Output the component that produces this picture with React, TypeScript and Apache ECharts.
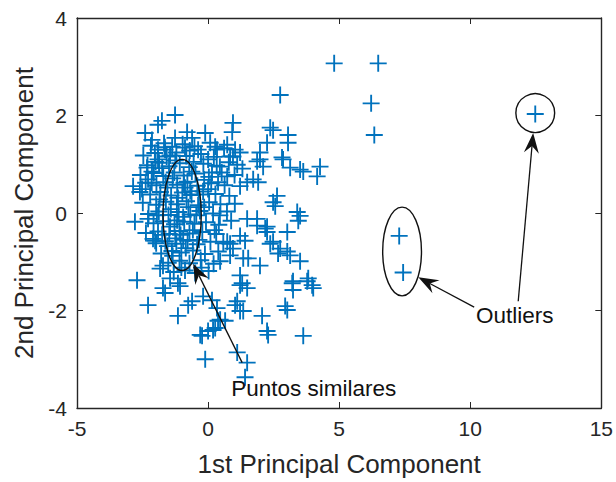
import React, { useEffect, useRef } from 'react';
import * as echarts from 'echarts';

// Axis ranges / ticks
const xTicks = [-5, 0, 5, 10, 15];
const yTicks = [-4, -2, 0, 2, 4];
const xTitle = '1st Principal Component';
const yTitle = '2nd Principal Component';

// Scores: dense core of the cloud [PC1, PC2]
const coreScores: number[][] = [
  [-2.18, 1.38], [-1.68, 1.43], [-1.37, 1.36], [-0.97, 1.41], [-0.52, 1.37], [0.08, 1.44], [0.61, 1.33],
  [-2.47, 1.18], [-2.03, 1.23], [-1.58, 1.16], [-1.21, 1.24], [-0.83, 1.17], [-0.27, 1.21], [0.22, 1.15],
  [-2.31, 0.98], [-1.87, 1.03], [-1.49, 0.96], [-1.08, 1.02], [-0.72, 0.94], [-0.18, 1.01], [0.33, 0.97], [0.79, 1.04], [1.31, 0.91],
  [-2.58, 0.78], [-2.07, 0.82], [-1.71, 0.76], [-1.29, 0.83], [-0.93, 0.77], [-0.48, 0.81], [0.03, 0.74], [0.52, 0.83], [1.01, 0.78],
  [-2.38, 0.62], [-1.97, 0.57], [-1.62, 0.63], [-1.18, 0.58], [-0.79, 0.64], [-0.41, 0.56], [0.12, 0.61], [0.63, 0.57],
  [-2.21, 0.38], [-1.82, 0.43], [-1.41, 0.36], [-0.98, 0.42], [-0.63, 0.37], [-0.19, 0.44], [0.28, 0.39], [0.81, 0.35],
  [-2.49, 0.21], [-1.98, 0.17], [-1.61, 0.23], [-1.19, 0.18], [-0.82, 0.24], [-0.38, 0.16], [0.04, 0.22], [0.47, 0.18], [1.02, 0.19],
  [-2.27, -0.02], [-1.88, 0.03], [-1.51, -0.04], [-1.12, 0.02], [-0.68, -0.03], [-0.31, 0.04], [0.19, -0.01], [0.72, 0.03],
  [-2.08, -0.21], [-1.72, -0.17], [-1.28, -0.23], [-0.91, -0.18], [-0.52, -0.22], [-0.08, -0.19], [0.41, -0.24], [0.88, -0.16],
  [-2.37, -0.41], [-1.91, -0.38], [-1.48, -0.43], [-1.09, -0.37], [-0.71, -0.42], [-0.22, -0.39], [0.31, -0.43],
  [-1.98, -0.62], [-1.63, -0.58], [-1.21, -0.63], [-0.78, -0.57], [-0.42, -0.64], [0.09, -0.59], [0.58, -0.62],
  [-1.79, -0.83], [-1.38, -0.78], [-1.02, -0.81], [-0.58, -0.77], [-0.12, -0.84], [0.39, -0.79],
  [-1.52, -1.02], [-1.09, -0.98], [-0.71, -1.03], [-0.28, -0.97], [0.21, -1.04],
  [-1.31, -1.21], [-0.88, -1.18], [-0.49, -1.23], [0.02, -1.19],
  [-1.35, 0.71], [-0.88, 0.52], [-1.42, 0.08], [-0.95, -0.08], [-1.25, -0.52], [-0.85, -0.72], [-1.15, 0.31],
  [-0.75, 0.12], [-1.45, -0.28], [-1.05, -0.45], [-0.62, 0.85], [-1.25, 1.08], [-0.58, -0.35], [-1.35, -0.88],
  [-0.92, 0.62], [-1.02, -1.12], [-0.68, 0.45], [-1.55, 0.52], [-0.45, -0.05], [-1.18, -0.15],
  [-2.00, 1.05], [-1.75, 0.92], [-1.45, 1.18], [-0.55, 1.05], [-0.15, 0.68], [-2.15, 0.62], [-1.85, 0.28],
  [-0.35, 0.38], [-1.95, -0.05], [-0.15, 0.12], [0.45, -0.05], [-1.75, -0.45], [-0.35, -0.55], [-1.55, -0.68],
  [-0.95, -0.55], [0.25, -0.35], [-0.25, -1.12], [-1.65, 1.35], [-0.70, 1.28], [0.45, 0.95],
];

// Scores: looser surrounding points
const spreadScores: number[][] = [
  [-1.26, 2.01], [-1.76, 1.89], [-2.40, 1.64], [-1.91, 1.81], [-0.80, 1.66], [-0.11, 1.64], [-0.61, 1.54], [-1.26, 1.54],
  [-2.14, 1.50], [0.27, 1.36], [0.95, 1.85], [2.75, 2.42], [2.48, 1.70], [3.05, 1.60], [2.25, 1.44], [2.82, 1.14],
  [1.98, 1.10], [2.10, 0.95], [3.51, 0.89], [4.27, 0.95], [4.16, 0.75], [0.95, 1.16], [1.22, 1.24], [0.73, 1.40],
  [0.34, 1.30], [1.49, 0.63], [1.72, 0.69], [2.48, 0.22], [3.40, 0.02], [3.51, -0.06], [-2.86, 0.55], [-2.60, 0.43],
  [-2.79, -0.18], [1.49, -0.12], [1.87, -0.26], [3.02, -0.39], [2.25, -0.39], [1.22, -0.47], [2.75, -0.73], [2.48, -0.59],
  [3.02, -0.79], [3.51, -0.99], [3.24, -1.40], [3.78, -1.40], [-2.71, -1.38], [-2.10, -0.53], [-1.83, -1.14], [0.46, -0.99],
  [0.84, -0.87], [1.22, -1.28], [-2.29, -1.89], [-1.72, -1.54], [-1.15, -2.11], [-1.07, -1.50], [-0.76, -1.89], [-0.30, -2.50],
  [-0.11, -3.00], [0.19, -2.40], [0.46, -2.19], [0.34, -1.95], [1.11, -1.81], [1.34, -2.01], [1.49, -3.07], [1.41, -3.37],
  [2.06, -2.11], [2.25, -2.42], [2.29, -2.50], [2.94, -1.91], [3.02, -1.99], [3.63, -2.52], [4.01, -1.54], [2.25, -0.28],
  [1.87, -0.12], [0.73, -0.59], [0.95, -0.73], [1.34, -0.93], [1.22, -1.48], [1.49, -1.54], [2.56, 0.14], [3.44, -0.16],
  [2.18, -0.32], [2.37, -0.63], [2.67, -0.83], [3.13, -0.87], [3.82, -1.34], [3.97, -1.48], [3.21, -1.44], [1.98, -1.08],
  [1.53, -0.93], [1.30, -1.44], [1.41, -0.57], [0.84, -0.63], [0.92, 1.66], [2.37, 1.75], [3.05, 1.44], [1.98, 1.24],
  [1.87, 1.06], [2.86, 1.10], [3.13, 0.93], [3.63, 0.85], [1.03, 1.30], [0.84, 1.16], [1.11, 0.99], [1.91, 0.63],
  [1.22, 0.55], [0.73, 0.75], [2.63, 0.35], [1.03, -1.89], [1.22, -2.01], [3.24, -1.58], [1.11, -2.86], [0.65, -2.21],
  [-1.64, -1.64], [-0.61, -1.81], [-0.19, -1.71], [0.15, -1.79], [-0.23, -2.52], [0.00, -2.42], [0.27, -2.36], [0.38, -2.21],
  [-1.45, -1.34], [-1.15, -1.44], [-1.72, -1.08], [-2.29, -0.12], [-2.02, -0.57], [-2.52, 0.49], [-2.33, 0.93], [-2.14, 0.85],
  [-1.91, 1.10], [-2.29, 0.69], [-1.91, 1.30], [-1.64, 1.30], [-0.88, 1.34], [-0.38, 1.30], [0.00, 1.10], [0.15, 0.83],
  [0.38, 0.63], [0.00, 0.49],
];

// Scores: far points above the cloud
const farScores: number[][] = [
  [4.81, 3.07], [6.49, 3.07], [6.22, 2.25], [6.34, 1.60],
];

// Scores: outliers
const outlierScores: number[][] = [
  [7.29, -0.47], [7.44, -1.22], [12.48, 2.03],
];

// Annotations (data coordinates)
const similarEllipse = { cx: -0.99, cy: -0.04, rx: 0.73, ry: 1.14 };
const outlierEllipse = { cx: 7.40, cy: -0.79, rx: 0.74, ry: 0.91 };
const outlierCircle = { cx: 12.48, cy: 2.05, r: 0.74 };
const similarLabel = { text: 'Puntos similares', x: 4.03, y: -3.61 };
const outlierLabel = { text: 'Outliers', x: 11.70, y: -2.10 };
const arrows = [
  { from: [1.30, -3.07], to: [-0.57, -1.04] },
  { from: [10.15, -1.93], to: [8.02, -1.32] },
  { from: [11.83, -1.81], to: [12.40, 1.64] },
];

const FONT = 'Liberation Sans, Arial, Helvetica, sans-serif';
const AXIS_COLOR = '#262626';
const MARK_COLOR = '#0072BD';
const PLUS = 'path://M44.5,0 H55.5 V44.5 H100 V55.5 H55.5 V100 H44.5 V55.5 H0 V44.5 H44.5 Z';

export default function App() {
  const ref = useRef<HTMLDivElement>(null);
  useEffect(() => {
    document.body.style.margin = '0';
    const chart = echarts.init(ref.current as HTMLDivElement, null, { renderer: 'svg' });
    const axisLine = { show: true, onZero: false, lineStyle: { color: AXIS_COLOR, width: 1.4 } };
    const tick = { show: true, inside: true, length: 6, lineStyle: { color: AXIS_COLOR, width: 1 } };
    const xBase = { type: 'value', min: xTicks[0], max: xTicks[xTicks.length - 1], interval: xTicks[1] - xTicks[0], splitLine: { show: false }, axisLine, axisTick: tick };
    const yBase = { type: 'value', min: yTicks[0], max: yTicks[yTicks.length - 1], interval: yTicks[1] - yTicks[0], splitLine: { show: false }, axisLine, axisTick: tick };
    const allScores = [...coreScores, ...spreadScores, ...farScores, ...outlierScores];
    chart.setOption({
      animation: false,
      textStyle: { fontFamily: FONT },
      grid: { left: 77, right: 14, top: 18, bottom: 70, containLabel: false },
      xAxis: [
        {
          ...xBase, position: 'bottom',
          axisLabel: { fontSize: 21, color: AXIS_COLOR, margin: 10, fontFamily: FONT },
          name: xTitle, nameLocation: 'middle', nameGap: 43,
          nameTextStyle: { fontSize: 26, color: AXIS_COLOR, fontFamily: FONT },
        },
        { ...xBase, position: 'top', axisLabel: { show: false } },
      ],
      yAxis: [
        {
          ...yBase, position: 'left',
          axisLabel: { fontSize: 21, color: AXIS_COLOR, margin: 10, fontFamily: FONT },
          name: yTitle, nameLocation: 'middle', nameGap: 40,
          nameTextStyle: { fontSize: 26, color: AXIS_COLOR, fontFamily: FONT },
        },
        { ...yBase, position: 'right', axisLabel: { show: false } },
      ],
      series: [
        {
          type: 'scatter',
          xAxisIndex: 0, yAxisIndex: 0,
          symbol: PLUS, symbolSize: 17,
          itemStyle: { color: MARK_COLOR, opacity: 1 },
          data: allScores,
        },
      ],
    });

    const px = (p: number[]) => chart.convertToPixel({ seriesIndex: 0 }, p) as number[];
    const ellipseEl = (e: { cx: number; cy: number; rx: number; ry: number }) => {
      const c = px([e.cx, e.cy]);
      const r1 = px([e.cx + e.rx, e.cy]);
      const r2 = px([e.cx, e.cy + e.ry]);
      return {
        type: 'ellipse', z: 100,
        shape: { cx: c[0], cy: c[1], rx: Math.abs(r1[0] - c[0]), ry: Math.abs(r2[1] - c[1]) },
        style: { fill: 'none', stroke: '#111', lineWidth: 1.4 },
      };
    };
    const circ = outlierCircle;
    const cc = px([circ.cx, circ.cy]);
    const cr = Math.abs(px([circ.cx + circ.r, circ.cy])[0] - cc[0]);
    const graphics: any[] = [
      ellipseEl(similarEllipse),
      ellipseEl(outlierEllipse),
      { type: 'circle', z: 100, shape: { cx: cc[0], cy: cc[1], r: cr }, style: { fill: 'none', stroke: '#111', lineWidth: 1.4 } },
    ];
    const L = 20, W = 7.5, N = 13;
    arrows.forEach((a) => {
      const t = px(a.from);
      const h = px(a.to);
      const dx = h[0] - t[0], dy = h[1] - t[1];
      const len = Math.hypot(dx, dy);
      const ux = dx / len, uy = dy / len;
      const nx = -uy, ny = ux;
      graphics.push({
        type: 'line', z: 100,
        shape: { x1: t[0], y1: t[1], x2: h[0] - ux * N, y2: h[1] - uy * N },
        style: { stroke: '#111', lineWidth: 1.3 },
      });
      graphics.push({
        type: 'polygon', z: 100,
        shape: {
          points: [
            [h[0], h[1]],
            [h[0] - ux * L + nx * W, h[1] - uy * L + ny * W],
            [h[0] - ux * N, h[1] - uy * N],
            [h[0] - ux * L - nx * W, h[1] - uy * L - ny * W],
          ],
        },
        style: { fill: '#111' },
      });
    });
    [similarLabel, outlierLabel].forEach((lab) => {
      const p = px([lab.x, lab.y]);
      graphics.push({
        type: 'text', z: 101, x: p[0], y: p[1],
        style: { text: lab.text, fill: '#111', font: `22.5px ${FONT}`, align: 'center', verticalAlign: 'middle', backgroundColor: 'transparent' },
      });
    });
    chart.setOption({ graphic: graphics });
    return () => chart.dispose();
  }, []);
  return <div ref={ref} style={{ width: 616, height: 482 }} />;
}
